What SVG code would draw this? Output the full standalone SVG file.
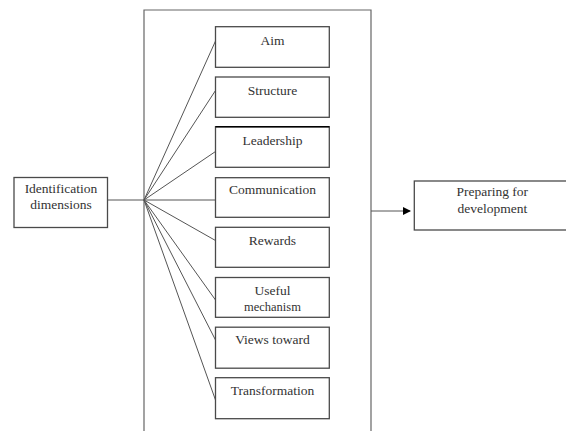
<svg xmlns="http://www.w3.org/2000/svg" width="566" height="431" viewBox="0 0 566 431">
<style>
.box{fill:#fff;stroke:#4a4a4a;stroke-width:1.3}
.frame{fill:none;stroke:#666;stroke-width:1.2}
.t{font-family:"Liberation Serif","Times New Roman",serif;font-size:13.5px;fill:#333;text-anchor:middle}
.ln{stroke:#555;stroke-width:1;fill:none}
</style>
<defs>
<marker id="ah" markerWidth="8" markerHeight="8" refX="7" refY="4" orient="auto" markerUnits="userSpaceOnUse">
<path d="M0,0 L8,4 L0,8 Z" fill="#000"/>
</marker>
</defs>
<rect width="566" height="431" fill="#fff"/>
<g id="frame"><path class="frame" d="M144,432 L144,10 L371,10 L371,432"/></g>
<g id="connectors">
<line class="ln" x1="103" y1="200" x2="144" y2="200"/>
<line class="ln" x1="144" y1="200" x2="215.5" y2="41"/>
<line class="ln" x1="144" y1="200" x2="215.5" y2="90.5"/>
<line class="ln" x1="144" y1="200" x2="215.5" y2="151.5"/>
<line class="ln" x1="144" y1="200" x2="215.5" y2="200"/>
<line class="ln" x1="144" y1="200" x2="215.5" y2="240.5"/>
<line class="ln" x1="144" y1="200" x2="215.5" y2="300"/>
<line class="ln" x1="144" y1="200" x2="215.5" y2="340"/>
<line class="ln" x1="144" y1="200" x2="215.5" y2="400"/>
<line class="ln" x1="371" y1="211" x2="410" y2="211" marker-end="url(#ah)"/>
</g>
<g id="identification">
<rect class="box" x="14" y="177.5" width="93.5" height="50"/>
<text class="t" x="61" y="193">Identification</text>
<text class="t" x="61" y="208.5">dimensions</text>
</g>
<g id="aim"><rect class="box" x="215.5" y="26.7" width="113.8" height="40.6"/><text class="t" x="272.4" y="44.5">Aim</text></g>
<g id="structure"><rect class="box" x="215.5" y="77" width="113.8" height="40.3"/><text class="t" x="272.4" y="94.5">Structure</text></g>
<g id="leadership"><rect class="box" x="215.5" y="126.7" width="113.8" height="40.6"/><line x1="215.5" y1="126.7" x2="329.3" y2="126.7" stroke="#000" stroke-width="1.6"/><text class="t" x="272.4" y="144.5">Leadership</text></g>
<g id="communication"><rect class="box" x="215.5" y="177.7" width="113.8" height="39.6"/><text class="t" x="272.4" y="193.5">Communication</text></g>
<g id="rewards"><rect class="box" x="215.5" y="227.3" width="113.8" height="40"/><text class="t" x="272.4" y="244.5">Rewards</text></g>
<g id="useful"><rect class="box" x="215.5" y="277.5" width="113.8" height="39.8"/><text class="t" x="272.4" y="295">Useful</text><text class="t" x="272.4" y="310.5" style="font-size:12.5px">mechanism</text></g>
<g id="views"><rect class="box" x="215.5" y="327.2" width="113.8" height="41"/><text class="t" x="272.4" y="344">Views toward</text></g>
<g id="transformation"><rect class="box" x="215.5" y="377.7" width="113.8" height="41"/><text class="t" x="272.4" y="395">Transformation</text></g>
<g id="preparing">
<rect class="box" x="414.3" y="181" width="160" height="49"/>
<text class="t" x="492.3" y="196">Preparing for</text>
<text class="t" x="492.3" y="213">development</text>
</g>
</svg>
